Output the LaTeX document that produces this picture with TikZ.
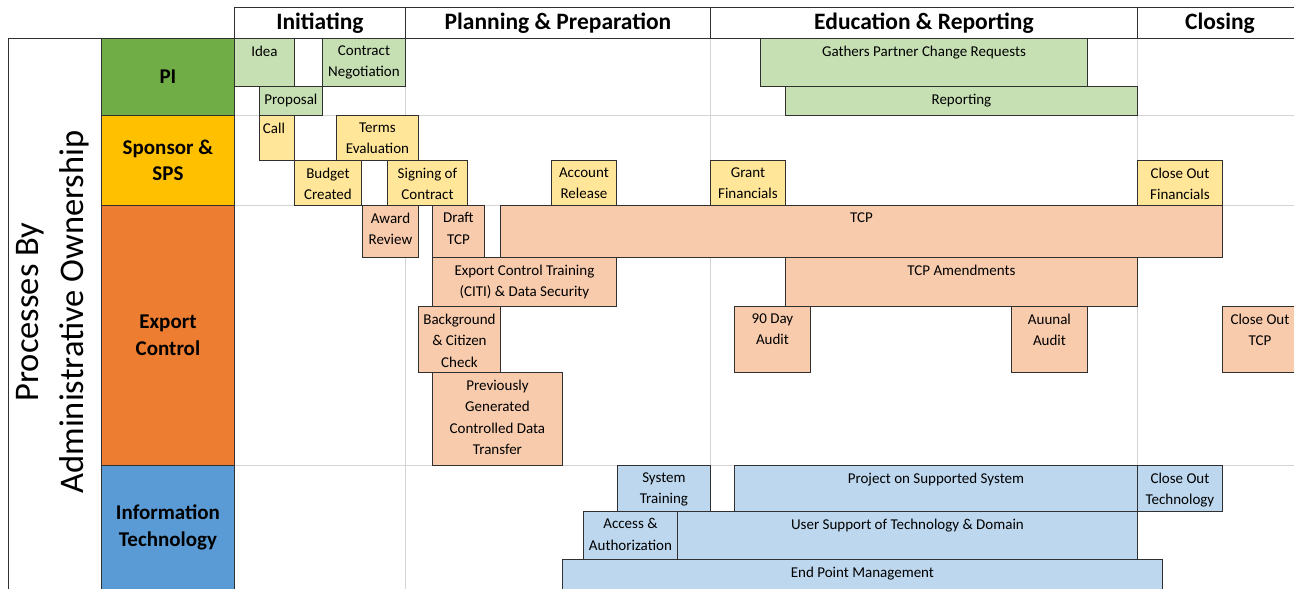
\documentclass[tikz,border=0pt]{standalone}
\usepackage{fontspec}
\setmainfont{Carlito}
\usetikzlibrary{positioning}

\definecolor{pigreen}{HTML}{70AD47}
\definecolor{spyellow}{HTML}{FFC000}
\definecolor{ecorange}{HTML}{ED7D31}
\definecolor{itblue}{HTML}{5B9BD5}
\definecolor{pilight}{HTML}{C6E0B4}
\definecolor{splight}{HTML}{FFE699}
\definecolor{eclight}{HTML}{F8CBAD}
\definecolor{itlight}{HTML}{BDD7EE}
\definecolor{gridgray}{HTML}{D4D4D4}
\definecolor{edgegray}{HTML}{303030}

\begin{document}
\begin{tikzpicture}[x=1pt, y=-1pt]

        % Setup the styles for the cells and the tasks
        \tikzset{cell style/.style={draw=edgegray,
                                    line width=0.9pt,
                                    anchor=north west,
                                    inner sep=0pt},
                 head style/.style={cell style,
                                    fill=white,
                                    font=\bfseries\fontsize{23.5}{26}\selectfont},
                 owner style/.style={cell style,
                                     align=center,
                                     font=\bfseries\fontsize{21}{26.5}\selectfont},
                 task style/.style={cell style},
                 task text/.style={below,
                                   align=center,
                                   inner xsep=1pt,
                                   inner ysep=7.5pt,
                                   font=\fontsize{15}{21.5}\selectfont}}

        \useasboundingbox (0, 0) rectangle (1294, 589);

        % Draw the light grid of the chart
        \foreach \gy in {115, 205, 465}
            \draw[gridgray, line width=0.9pt] (234, \gy) -- (1300, \gy);
        \foreach \gx in {405, 710, 1137}
            \draw[gridgray, line width=0.9pt] (\gx, 38) -- (\gx, 600);

        % Draw the phase headers
        \node[head style, minimum width=171pt, minimum height=31pt]
                            at (234, 7)     (init)      {Initiating};
        \node[head style, minimum width=305pt, minimum height=31pt]
                            at (405, 7)     (plan)      {Planning \& Preparation};
        \node[head style, minimum width=427pt, minimum height=31pt]
                            at (710, 7)     (edu)       {Education \& Reporting};
        \node[head style, minimum width=165pt, minimum height=31pt]
                            at (1137, 7)    (close)     {Closing};

        % Draw the owner column
        \node[cell style, minimum width=93pt, minimum height=560pt]
                            at (8, 38)      (owners)    {};
        \node[rotate=90, align=center, font=\fontsize{34.5}{45}\selectfont]
                            at (53, 312)    (ownertext) {Processes By\\Administrative Ownership};
        \node[owner style, fill=pigreen, minimum width=133pt, minimum height=77pt]
                            at (101, 38)    (pi)        {PI};
        \node[owner style, fill=spyellow, minimum width=133pt, minimum height=90pt]
                            at (101, 115)   (sps)       {Sponsor \&\\SPS};
        \node[owner style, fill=ecorange, minimum width=133pt, minimum height=260pt]
                            at (101, 205)   (ec)        {Export\\Control};
        \node[owner style, fill=itblue, minimum width=133pt, minimum height=124pt]
                            at (101, 465)   (it)        {Information\\Technology};

        % Draw the PI tasks
        \node[task style, fill=pilight, minimum width=60pt, minimum height=48pt,
              label={[name=idea-t, task text]north:{Idea}}]
                            at (234, 38)    (idea)      {};
        \node[task style, fill=pilight, minimum width=83pt, minimum height=48pt,
              label={[name=contract-t, task text]north:{Contract\\Negotiation}}]
                            at (322, 38)    (contract)  {};
        \node[task style, fill=pilight, minimum width=63pt, minimum height=29pt,
              label={[name=proposal-t, task text]north:{Proposal}}]
                            at (259, 86)    (proposal)  {};
        \node[task style, fill=pilight, minimum width=327pt, minimum height=48pt,
              label={[name=gathers-t, task text]north:{Gathers Partner Change Requests}}]
                            at (760, 38)    (gathers)   {};
        \node[task style, fill=pilight, minimum width=352pt, minimum height=29pt,
              label={[name=reporting-t, task text]north:{Reporting}}]
                            at (785, 86)    (reporting) {};

        % Draw the sponsor & SPS tasks
        \node[task style, fill=splight, minimum width=35pt, minimum height=45pt,
              label={[name=call-t, task text, xshift=-3pt]north:{Call}}]
                            at (259, 115)   (call)      {};
        \node[task style, fill=splight, minimum width=82pt, minimum height=45pt,
              label={[name=terms-t, task text]north:{Terms\\Evaluation}}]
                            at (336, 115)   (terms)     {};
        \node[task style, fill=splight, minimum width=67pt, minimum height=45pt,
              label={[name=budget-t, task text]north:{Budget\\Created}}]
                            at (294, 160)   (budget)    {};
        \node[task style, fill=splight, minimum width=80pt, minimum height=45pt,
              label={[name=signing-t, task text]north:{Signing of\\Contract}}]
                            at (387, 160)   (signing)   {};
        \node[task style, fill=splight, minimum width=65pt, minimum height=45pt,
              label={[name=account-t, task text]north:{Account\\Release}}]
                            at (551, 160)   (account)   {};
        \node[task style, fill=splight, minimum width=75pt, minimum height=45pt,
              label={[name=grant-t, task text]north:{Grant\\Financials}}]
                            at (710, 160)   (grant)     {};
        \node[task style, fill=splight, minimum width=85pt, minimum height=45pt,
              label={[name=closefin-t, task text]north:{Close Out\\Financials}}]
                            at (1137, 160)  (closefin)  {};

        % Draw the export control tasks
        \node[task style, fill=eclight, minimum width=56pt, minimum height=52pt,
              label={[name=award-t, task text]north:{Award\\Review}}]
                            at (362, 205)   (award)     {};
        \node[task style, fill=eclight, minimum width=52pt, minimum height=52pt,
              label={[name=draft-t, task text]north:{Draft\\TCP}}]
                            at (432, 205)   (draft)     {};
        \node[task style, fill=eclight, minimum width=722pt, minimum height=52pt,
              label={[name=tcp-t, task text]north:{TCP}}]
                            at (500, 205)   (tcp)       {};
        \node[task style, fill=eclight, minimum width=184pt, minimum height=49pt,
              label={[name=training-t, task text]north:{Export Control Training\\(CITI) \& Data Security}}]
                            at (432, 257)   (training)  {};
        \node[task style, fill=eclight, minimum width=352pt, minimum height=49pt,
              label={[name=amend-t, task text]north:{TCP Amendments}}]
                            at (785, 257)   (amend)     {};
        \node[task style, fill=eclight, minimum width=82pt, minimum height=66pt,
              label={[name=background-t, task text]north:{Background\\\& Citizen\\Check}}]
                            at (418, 306)   (background) {};
        \node[task style, fill=eclight, minimum width=130pt, minimum height=93pt,
              label={[name=previous-t, task text]north:{Previously\\Generated\\Controlled Data\\Transfer}}]
                            at (432, 372)   (previous)  {};
        \node[task style, fill=eclight, minimum width=76pt, minimum height=66pt,
              label={[name=audit-t, task text]north:{90 Day\\Audit}}]
                            at (734, 306)   (audit)     {};
        \node[task style, fill=eclight, minimum width=76pt, minimum height=66pt,
              label={[name=annual-t, task text]north:{Auunal\\Audit}}]
                            at (1011, 306)  (annual)    {};
        \node[task style, fill=eclight, minimum width=75pt, minimum height=66pt,
              label={[name=closetcp-t, task text]north:{Close Out\\TCP}}]
                            at (1222, 306)  (closetcp)  {};

        % Draw the information technology tasks
        \node[task style, fill=itlight, minimum width=93pt, minimum height=46pt,
              label={[name=systrain-t, task text]north:{System\\Training}}]
                            at (617, 465)   (systrain)  {};
        \node[task style, fill=itlight, minimum width=403pt, minimum height=46pt,
              label={[name=project-t, task text]north:{Project on Supported System}}]
                            at (734, 465)   (project)   {};
        \node[task style, fill=itlight, minimum width=85pt, minimum height=46pt,
              label={[name=closetech-t, task text]north:{Close Out\\Technology}}]
                            at (1137, 465)  (closetech) {};
        \node[task style, fill=itlight, minimum width=94pt, minimum height=48pt,
              label={[name=access-t, task text]north:{Access \&\\Authorization}}]
                            at (583, 511)   (access)    {};
        \node[task style, fill=itlight, minimum width=460pt, minimum height=48pt,
              label={[name=support-t, task text]north:{User Support of Technology \& Domain}}]
                            at (677, 511)   (support)   {};
        \node[task style, fill=itlight, minimum width=600pt, minimum height=45pt,
              label={[name=endpoint-t, task text]north:{End Point Management}}]
                            at (562, 559)   (endpoint)  {};
\end{tikzpicture}
\end{document}
